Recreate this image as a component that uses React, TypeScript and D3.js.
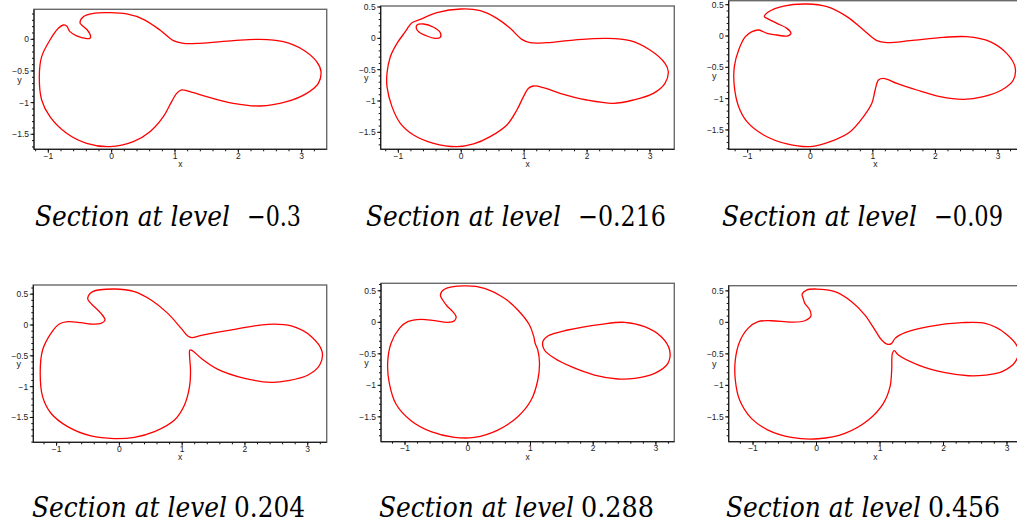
import * as d3 from "d3";

type Pt = [number, number];

// level of each plane section, in reading order
const levels = ["\u22120.3", "\u22120.216", "\u22120.09", "0.204", "0.288", "0.456"];

// visible ranges of each panel
const xDomains: [number, number][] = [
  [-1.226, 3.395],
  [-1.28, 3.386],
  [-1.303, 3.383],
  [-1.371, 3.302],
  [-1.383, 3.293],
  [-1.383, 3.236],
];
const yDomains: [number, number][] = [
  [-1.737, 0.474],
  [-1.771, 0.516],
  [-1.809, 0.564],
  [-1.903, 0.649],
  [-1.894, 0.619],
  [-1.894, 0.582],
];

const xTickValues = [-1, 0, 1, 2, 3];
const yTickValues = [0.5, 0, -0.5, -1, -1.5];

// level curves (x, y)
const section1: Pt[] = [
  [-0.5, 0.263], [-0.447, 0.358], [-0.289, 0.411], [-0.026, 0.421], [0.237, 0.4],
  [0.5, 0.316], [0.763, 0.147], [0.974, -0.021], [1.132, -0.063], [1.395, -0.063],
  [1.921, -0.021], [2.342, 0], [2.711, -0.037], [3.026, -0.168], [3.237, -0.353],
  [3.305, -0.511], [3.263, -0.695], [3.079, -0.853], [2.763, -0.984], [2.342, -1.053],
  [1.921, -1.011], [1.5, -0.905], [1.237, -0.826], [1.105, -0.8], [1.026, -0.853],
  [0.947, -0.984], [0.816, -1.221], [0.605, -1.458], [0.342, -1.616], [-0.026, -1.695],
  [-0.395, -1.642], [-0.711, -1.484], [-0.974, -1.221], [-1.105, -0.958], [-1.142, -0.589],
  [-1.105, -0.274], [-0.974, -0.011], [-0.842, 0.174], [-0.763, 0.226], [-0.711, 0.211],
  [-0.658, 0.121], [-0.553, 0.053], [-0.395, 0.011], [-0.342, 0.016], [-0.332, 0.042],
  [-0.384, 0.147], [-0.474, 0.226],
];

const section2Outer: Pt[] = [
  [-0.783, 0.25], [-0.651, 0.303], [-0.386, 0.41], [0, 0.468], [0.302, 0.441],
  [0.566, 0.319], [0.778, 0.16], [0.963, -0.016], [1.095, -0.069], [1.36, -0.069],
  [1.783, -0.027], [2.312, 0], [2.683, -0.037], [3.0, -0.186], [3.238, -0.399],
  [3.291, -0.532], [3.238, -0.718], [3.053, -0.878], [2.735, -0.984], [2.418, -1.037],
  [1.995, -0.984], [1.571, -0.878], [1.307, -0.787], [1.148, -0.761], [1.069, -0.798],
  [0.989, -0.931], [0.884, -1.144], [0.725, -1.383], [0.46, -1.569], [0.196, -1.686],
  [-0.069, -1.729], [-0.439, -1.676], [-0.757, -1.543], [-0.968, -1.356], [-1.101, -1.09],
  [-1.18, -0.771], [-1.18, -0.559], [-1.127, -0.293], [-1.021, -0.08], [-0.889, 0.106],
  [-0.836, 0.186],
];
const section2Hole: Pt[] = [
  [-0.704, 0.213], [-0.598, 0.229], [-0.439, 0.176], [-0.333, 0.09], [-0.333, 0.016],
  [-0.413, 0], [-0.545, 0.037], [-0.677, 0.106], [-0.714, 0.16],
];

const section3: Pt[] = [
  [-0.734, 0.309], [-0.665, 0.388], [-0.426, 0.479], [-0.053, 0.511], [0.266, 0.468],
  [0.585, 0.309], [0.851, 0.096], [1.064, -0.074], [1.223, -0.106], [1.596, -0.074],
  [2.128, -0.021], [2.5, -0.011], [2.872, -0.09], [3.138, -0.277], [3.271, -0.489],
  [3.245, -0.702], [3.059, -0.862], [2.766, -0.968], [2.447, -1.011], [2.074, -0.968],
  [1.702, -0.862], [1.383, -0.755], [1.17, -0.676], [1.09, -0.702], [1.037, -0.862],
  [0.984, -1.074], [0.851, -1.287], [0.638, -1.527], [0.319, -1.686], [0, -1.766],
  [-0.372, -1.723], [-0.745, -1.58], [-1.011, -1.367], [-1.144, -1.128], [-1.213, -0.809],
  [-1.213, -0.489], [-1.144, -0.223], [-1.037, -0.011], [-0.931, 0.069], [-0.824, 0.096],
  [-0.691, 0.043], [-0.532, 0.016], [-0.372, 0], [-0.309, 0.043], [-0.372, 0.122],
  [-0.532, 0.202], [-0.691, 0.282],
];

const section4: Pt[] = [
  [-0.505, 0.432], [-0.426, 0.541], [-0.08, 0.584], [0.239, 0.541], [0.505, 0.405],
  [0.771, 0.189], [0.984, -0.054], [1.09, -0.178], [1.154, -0.205], [1.303, -0.168],
  [1.835, -0.07], [2.367, 0.011], [2.739, -0.016], [3.059, -0.189], [3.229, -0.432],
  [3.191, -0.649], [3.005, -0.811], [2.686, -0.903], [2.42, -0.93], [1.995, -0.865],
  [1.569, -0.719], [1.303, -0.541], [1.17, -0.422], [1.122, -0.405], [1.117, -0.486],
  [1.133, -0.73], [1.117, -1.0], [1.037, -1.297], [0.878, -1.541], [0.559, -1.73],
  [0.239, -1.822], [-0.08, -1.843], [-0.452, -1.8], [-0.824, -1.649], [-1.09, -1.432],
  [-1.223, -1.162], [-1.261, -0.784], [-1.223, -0.405], [-1.09, -0.135], [-0.957, 0.016],
  [-0.824, 0.054], [-0.612, 0.038], [-0.452, 0.016], [-0.293, 0.027], [-0.229, 0.081],
  [-0.293, 0.189], [-0.399, 0.297], [-0.479, 0.378],
];

const section5Body: Pt[] = [
  [-0.436, 0.434], [-0.372, 0.524], [-0.053, 0.577], [0.266, 0.54], [0.585, 0.381],
  [0.798, 0.196], [0.984, -0.042], [1.053, -0.228], [1.074, -0.333], [1.117, -0.439],
  [1.144, -0.651], [1.117, -0.915], [1.011, -1.233], [0.798, -1.497], [0.479, -1.709],
  [0.106, -1.825], [-0.213, -1.825], [-0.585, -1.735], [-0.904, -1.561], [-1.144, -1.296],
  [-1.25, -0.968], [-1.277, -0.651], [-1.223, -0.333], [-1.09, -0.095], [-0.957, 0.011],
  [-0.745, 0.048], [-0.532, 0.026], [-0.319, 0], [-0.213, 0.026], [-0.186, 0.09],
  [-0.239, 0.169], [-0.33, 0.259], [-0.399, 0.354],
];
const section5Lobe: Pt[] = [
  [1.197, -0.307], [1.277, -0.217], [1.596, -0.122], [2.128, -0.032], [2.5, 0],
  [2.819, -0.069], [3.085, -0.228], [3.218, -0.439], [3.191, -0.651], [2.979, -0.81],
  [2.66, -0.889], [2.394, -0.899], [2.021, -0.836], [1.649, -0.704], [1.383, -0.571],
  [1.223, -0.439],
];

const section6: Pt[] = [
  [-0.226, 0.45], [-0.158, 0.513], [0, 0.529], [0.289, 0.487], [0.553, 0.328],
  [0.763, 0.116], [0.921, -0.122], [1.026, -0.28], [1.121, -0.349], [1.184, -0.333],
  [1.237, -0.254], [1.395, -0.164], [1.763, -0.069], [2.289, -0.005], [2.658, -0.016],
  [2.974, -0.175], [3.174, -0.413], [3.132, -0.624], [2.921, -0.783], [2.658, -0.836],
  [2.395, -0.847], [2.026, -0.799], [1.605, -0.677], [1.289, -0.519], [1.226, -0.45],
  [1.195, -0.492], [1.184, -0.757], [1.158, -1.021], [1.053, -1.286], [0.816, -1.55],
  [0.447, -1.762], [0.026, -1.847], [-0.395, -1.825], [-0.763, -1.709], [-1.026, -1.524],
  [-1.211, -1.233], [-1.279, -0.915], [-1.279, -0.598], [-1.211, -0.307], [-1.079, -0.095],
  [-0.921, 0.011], [-0.711, 0.026], [-0.395, 0.005], [-0.184, 0.026], [-0.089, 0.101],
  [-0.105, 0.196], [-0.184, 0.302], [-0.211, 0.381],
];

const sectionCurves: Pt[][][] = [
  [section1],
  [section2Outer, section2Hole],
  [section3],
  [section4],
  [section5Body, section5Lobe],
  [section6],
];

// pixel box of each plot frame
const frames = [
  { left: 34, right: 326.7, top: 9.3, bottom: 149.3 },
  { left: 380.7, right: 674.3, top: 6, bottom: 149.3 },
  { left: 728.7, right: 1022, top: 0.7, bottom: 149.3 },
  { left: 33.3, right: 326.7, top: 285, bottom: 442.3 },
  { left: 381, right: 674.3, top: 283.3, bottom: 441.7 },
  { left: 728.7, right: 1022, top: 285.7, bottom: 441.7 },
];
// caption placement: start of the words, end of the number, baseline per row
const captionLeft = [35, 366, 722, 32, 379, 726];
const captionRight = [301, 666, 1003, 305, 654, 1000];
const captionY = [225.7, 516.7];
const wordsWidth = 195;

const fmt = (v: number) => (v < 0 ? "\u2212" + Math.abs(v) : String(v));
const tickFont = "Liberation Sans";
const captionFont = "DejaVu Serif";

const Panel = ({ i }: { i: number }) => {
  const f = frames[i];
  const [x0, x1] = xDomains[i];
  const [y0, y1] = yDomains[i];
  const x = d3.scaleLinear().domain([x0, x1]).range([f.left, f.right]);
  const y = d3.scaleLinear().domain([y0, y1]).range([f.bottom, f.top]);

  const line = d3
    .line<Pt>()
    .x((d) => x(d[0]))
    .y((d) => y(d[1]))
    .curve(d3.curveCatmullRomClosed.alpha(0.5));

  const xMinor = d3.range(Math.ceil(x0 * 5), Math.floor(x1 * 5) + 1).map((k) => k / 5);
  const yMinor = d3.range(Math.ceil(y0 * 10), Math.floor(y1 * 10) + 1).map((k) => k / 10);
  const xMajor = xTickValues.filter((v) => v >= x0 && v <= x1);
  const yMajor = yTickValues.filter((v) => v >= y0 && v <= y1);

  const row = Math.floor(i / 3);
  const midY = (f.top + f.bottom) / 2;
  const midX = (f.left + f.right) / 2;

  // negative levels get the wider spacing of a binary minus
  const numStart = captionLeft[i] + wordsWidth + (levels[i].startsWith("\u2212") ? 17 : 7);

  return (
    <g>
      <defs>
        <clipPath id={`clip${i}`}>
          <rect x={f.left} y={f.top} width={f.right - f.left} height={f.bottom - f.top} />
        </clipPath>
      </defs>

      {/* box */}
      <rect
        x={f.left}
        y={f.top}
        width={f.right - f.left}
        height={f.bottom - f.top}
        fill="none"
        stroke="#6a6a6a"
        strokeWidth={1.4}
      />
      <line x1={f.left} x2={f.left} y1={f.top} y2={f.bottom} stroke="#111" />
      <line x1={f.left} x2={f.right} y1={f.bottom} y2={f.bottom} stroke="#111" />

      {/* minor and major ticks */}
      {xMinor.map((v) => (
        <line key={`xm${v}`} x1={x(v)} x2={x(v)} y1={f.bottom} y2={f.bottom + 2} stroke="#111" />
      ))}
      {xMajor.map((v) => (
        <line key={`xM${v}`} x1={x(v)} x2={x(v)} y1={f.bottom} y2={f.bottom + 3.5} stroke="#111" />
      ))}
      {yMinor.map((v) => (
        <line key={`ym${v}`} x1={f.left - 2} x2={f.left} y1={y(v)} y2={y(v)} stroke="#111" />
      ))}
      {yMajor.map((v) => (
        <line key={`yM${v}`} x1={f.left - 3.5} x2={f.left} y1={y(v)} y2={y(v)} stroke="#111" />
      ))}

      {/* tick labels */}
      {xMajor.map((v) => (
        <text
          key={`xl${v}`}
          x={x(v)}
          y={f.bottom + 9.5}
          textAnchor="middle"
          fontSize={8.5}
          fontFamily={tickFont}
          fill="#222"
        >
          {fmt(v)}
        </text>
      ))}
      {yMajor.map((v) => (
        <text
          key={`yl${v}`}
          x={f.left - 5}
          y={y(v) + 3}
          textAnchor="end"
          fontSize={8.5}
          fontFamily={tickFont}
          fill="#222"
        >
          {fmt(v)}
        </text>
      ))}
      <text x={midX} y={f.bottom + 18} textAnchor="middle" fontSize={8.5} fontFamily={tickFont} fill="#222">
        x
      </text>
      <text x={f.left - 14.5} y={midY + 3.5} textAnchor="middle" fontSize={9} fontFamily={tickFont} fill="#222">
        y
      </text>

      {/* level curves */}
      <g clipPath={`url(#clip${i})`}>
        {sectionCurves[i].map((c, k) => (
          <path key={k} d={line(c) ?? ""} fill="none" stroke="#f00" strokeWidth={1.3} />
        ))}
      </g>

      {/* caption: italic words, upright number */}
      <text
        x={captionLeft[i]}
        y={captionY[row]}
        fontSize={28}
        fontStyle="italic"
        fontFamily={captionFont}
        fill="#000"
        textLength={wordsWidth}
        lengthAdjust="spacingAndGlyphs"
      >
        Section at level
      </text>
      <text
        x={numStart}
        y={captionY[row]}
        fontSize={28}
        fontFamily={captionFont}
        fill="#000"
        textLength={captionRight[i] - numStart}
        lengthAdjust="spacingAndGlyphs"
      >
        {levels[i]}
      </text>
    </g>
  );
};

export default function App() {
  return (
    <svg
      width={1017}
      height={527}
      style={{ position: "absolute", left: 0, top: 0, background: "#fff" }}
    >
      {levels.map((_, i) => (
        <Panel key={i} i={i} />
      ))}
    </svg>
  );
}
